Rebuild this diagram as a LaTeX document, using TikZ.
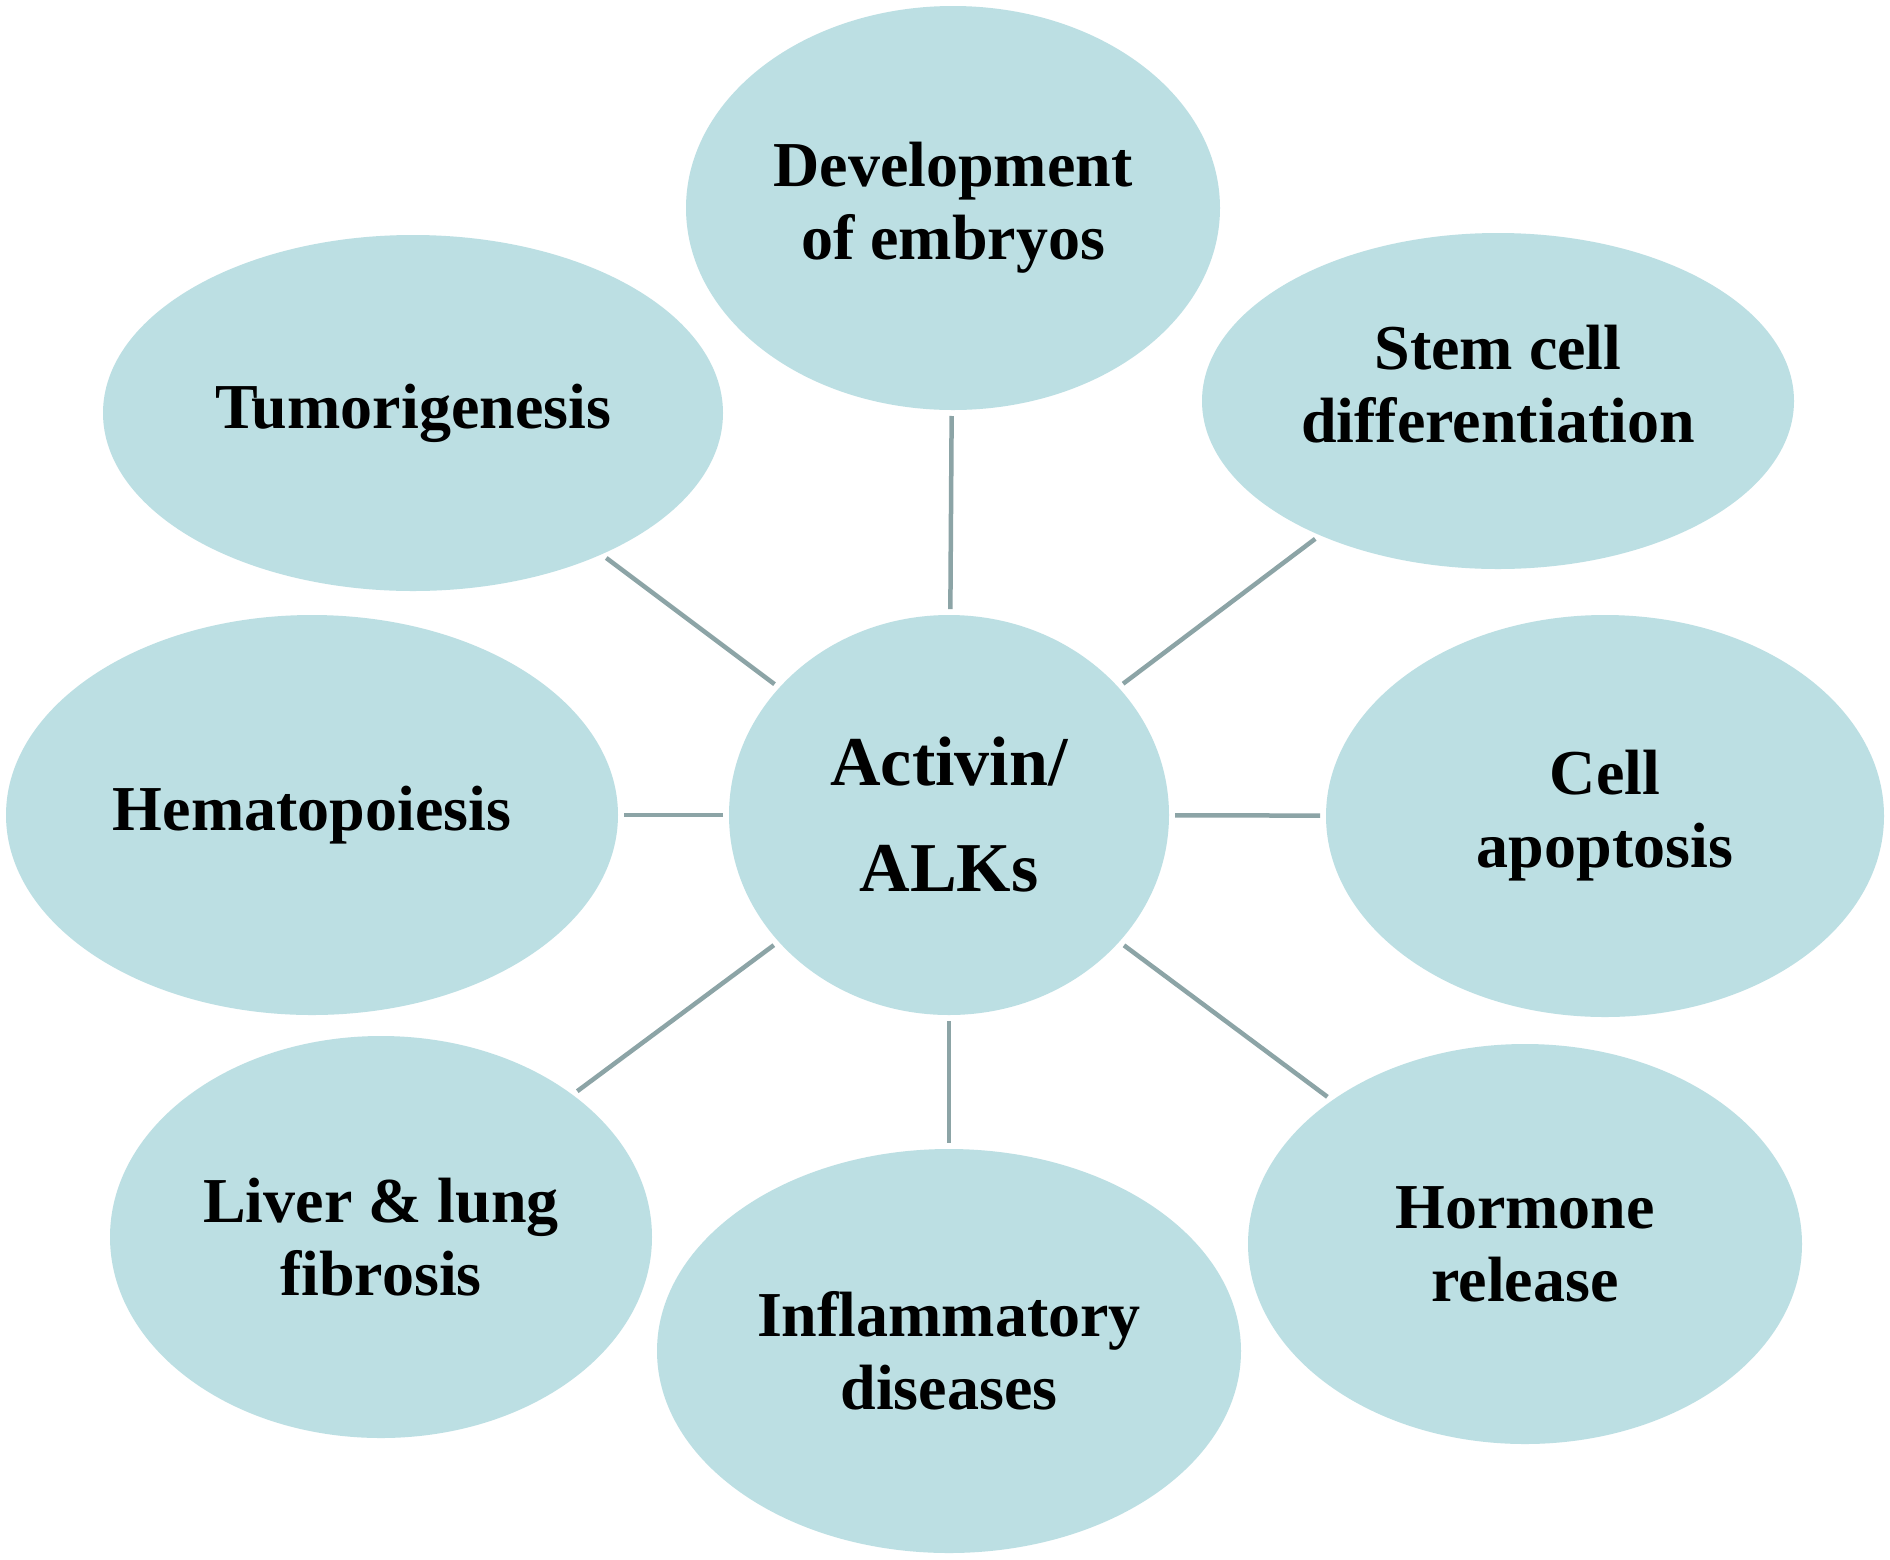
\documentclass[tikz,border=0pt]{standalone}
\usepackage{fontspec}
\setmainfont{Liberation Serif}
\usetikzlibrary{shapes.geometric}
\definecolor{bubble}{RGB}{188,223,227}
\definecolor{linkcol}{RGB}{140,164,166}
\begin{document}
\begin{tikzpicture}[x=1pt,y=-1pt,
  bub/.style={ellipse,fill=bubble,draw=none,inner sep=0pt,outer sep=0pt,align=center,
    font=\fontsize{64}{73}\selectfont\bfseries},
  txt/.style={inner sep=0pt,align=center,font=\fontsize{64}{73}\selectfont\bfseries},
  hub/.style={bub,font=\fontsize{70}{106}\selectfont\bfseries},
  link/.style={draw=linkcol,line width=4.5pt,shorten <=6pt,shorten >=6pt}]
\useasboundingbox[fill=white] (0,0) rectangle (1890,1559);
\node[hub,minimum width=440pt,minimum height=400pt] (c) at (949,815) {Activin/\\ALKs};
\node[bub,minimum width=534pt,minimum height=404pt] (dev) at (953,208) {Development\\of embryos};
\node[bub,minimum width=592pt,minimum height=336pt] (stem) at (1498,401) {};
\node[txt] (stemtext) at ([yshift=17pt]stem.center) {Stem cell\\differentiation};
\node[bub,minimum width=620pt,minimum height=356pt] (tum) at (413,413) {Tumorigenesis};
\node[bub,minimum width=612pt,minimum height=400pt] (hem) at (312,815) {Hematopoiesis};
\node[bub,minimum width=558pt,minimum height=402pt] (apo) at (1605,816) {Cell\\apoptosis};
\node[bub,minimum width=542pt,minimum height=402pt] (liv) at (381,1237) {Liver \& lung\\fibrosis};
\node[bub,minimum width=584pt,minimum height=404pt] (inf) at (949,1351) {Inflammatory\\diseases};
\node[bub,minimum width=554pt,minimum height=400pt] (hor) at (1525,1244) {Hormone\\release};
\foreach \t in {dev,stem,tum,hem,apo,liv,inf,hor}
  \draw[link] (c) -- (\t);
\end{tikzpicture}
\end{document}
